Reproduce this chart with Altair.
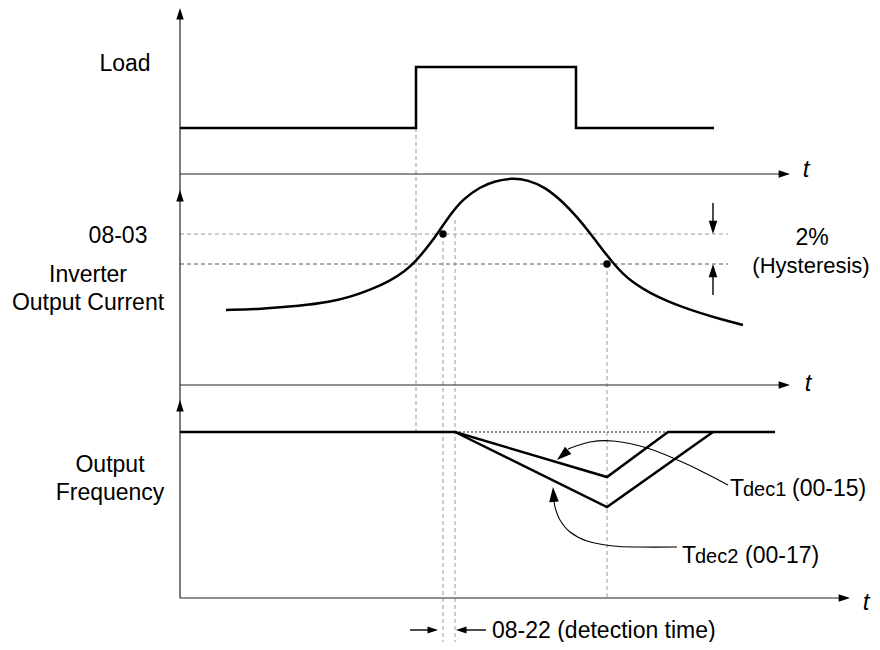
import altair as alt
import pandas as pd

FONT = "Liberation Sans, Arial, Helvetica, sans-serif"

# ---------------- data (diagram coordinates) ----------------
# axes (solid thin lines)
axis_x1 = [180, 180, 180, 180]
axis_y1 = [598, 174, 385, 598]
axis_x2 = [180, 786, 786, 846]
axis_y2 = [12, 174, 385, 598]

# Load signal
load_t = [180, 416, 416, 576, 576, 714]
load_v = [128, 128, 67, 67, 128, 128]

# Inverter output current
cur_t = [226, 260, 300, 330, 350, 370, 390, 405, 415, 426, 438, 450, 463, 480, 495, 512,
         528, 545, 563, 577, 590, 602, 613, 623, 635, 650, 667, 685, 700, 720, 743]
cur_v = [310, 309, 306, 302, 297, 290, 281, 271, 262, 249, 233, 215, 199, 187, 181, 178,
         180, 187, 202, 217, 233, 249, 263, 274, 284, 293, 301, 308, 313, 319, 325]

# Output frequency (Tdec1 and Tdec2 paths)
f_base_t = [180, 455]
f_base_v = [432, 432]
f1_t = [455, 607, 668, 775]
f1_v = [432, 477, 432, 432]
f2_t = [455, 607, 713]
f2_v = [432, 507, 432]

# dashed helper lines (horizontal)
hd_x1 = [180, 180]
hd_x2 = [728, 728]
hd_y = [234, 264]
hd_col = ["#9a9a9a", "#555555"]

# dashed helper lines (vertical)
vd_x = [416, 443, 455, 607]
vd_y1 = [128, 234, 220, 264]
vd_y2 = [432, 648, 648, 598]

# dotted reference at set frequency
dot_x1, dot_x2, dot_y = 455, 668, 432

# detection points
pt_t = [443, 607]
pt_v = [234, 264]

# arrow shafts
sh_x1 = [713, 713, 410, 486]
sh_y1 = [203, 295, 630, 630]
sh_x2 = [713, 713, 428, 466]
sh_y2 = [222, 276, 630, 630]

# arrowheads: tip position, direction (deg clockwise from up), size
ah_x = [180, 180, 180, 790, 790, 850, 713, 713, 438, 456, 557, 553]
ah_y = [8, 190, 400, 174, 385, 598, 234, 264, 630, 630, 460, 487]
ah_ang = [0, 0, 0, 90, 90, 90, 180, 0, 90, 270, 229, 356]
ah_sz = [130, 130, 130, 130, 130, 130, 175, 175, 110, 110, 220, 220]

# leader curves
l1_x = [728, 705, 680, 647, 613, 590, 568]
l1_y = [485, 473, 461, 448, 441, 442, 449]
l2_x = [677, 640, 613, 587, 570, 560, 555, 554]
l2_y = [547, 547, 546, 541, 532, 520, 507, 499]

# texts
lab_text = ["Load", "08-03", "Inverter", "Output Current", "Output", "Frequency", "2%"]
lab_x = [125, 118, 88, 88, 110, 110, 812]
lab_y = [64, 236, 275, 303, 465, 493, 238]

hyst_text = ["(Hysteresis)"]
hyst_x = [811]
hyst_y = [266]

t_x = [806, 808, 866]
t_y = [170, 384, 603]

# ---------------- build ----------------
W, H = 864, 634
xs = alt.Scale(domain=[8, 8 + W], nice=False, zero=False)
ys = alt.Scale(domain=[8, 8 + H], nice=False, zero=False, reverse=True)


def X(f):
    return alt.X(f, type="quantitative", scale=xs, axis=None)


def Y(f):
    return alt.Y(f, type="quantitative", scale=ys, axis=None)


def line(xv, yv, width=2.5, color="black", dash=None, interp="linear"):
    df = pd.DataFrame({"x": xv, "y": yv, "o": list(range(len(xv)))})
    kw = dict(color=color, strokeWidth=width, interpolate=interp)
    if dash:
        kw["strokeDash"] = dash
    return alt.Chart(df).mark_line(**kw).encode(x=X("x"), y=Y("y"), order="o:Q")


layers = []

# dashed helpers
hd = pd.DataFrame({"x1": hd_x1, "x2": hd_x2, "y": hd_y, "c": hd_col})
layers.append(alt.Chart(hd).mark_rule(strokeWidth=1, strokeDash=[4, 3]).encode(
    x=X("x1"), x2="x2", y=Y("y"), color=alt.Color("c:N", scale=None)))
vd = pd.DataFrame({"x": vd_x, "y1": vd_y1, "y2": vd_y2})
layers.append(alt.Chart(vd).mark_rule(strokeWidth=1, strokeDash=[4, 3], color="#999999").encode(
    x=X("x"), y=Y("y1"), y2="y2"))
dd = pd.DataFrame({"x1": [dot_x1], "x2": [dot_x2], "y": [dot_y]})
layers.append(alt.Chart(dd).mark_rule(strokeWidth=1.2, strokeDash=[2, 2], color="#222222").encode(
    x=X("x1"), x2="x2", y=Y("y")))

# axes
ax = pd.DataFrame({"x1": axis_x1, "y1": axis_y1, "x2": axis_x2, "y2": axis_y2})
layers.append(alt.Chart(ax).mark_rule(strokeWidth=1.2, color="#222222").encode(
    x=X("x1"), y=Y("y1"), x2="x2", y2="y2"))

# signals
layers.append(line(load_t, load_v))
layers.append(line(cur_t, cur_v, interp="basis"))
layers.append(line(f_base_t, f_base_v))
layers.append(line(f1_t, f1_v))
layers.append(line(f2_t, f2_v))

# leaders
layers.append(line(l1_x, l1_y, width=1.1, interp="cardinal"))
layers.append(line(l2_x, l2_y, width=1.1, interp="cardinal"))

# shafts
sh = pd.DataFrame({"x1": sh_x1, "y1": sh_y1, "x2": sh_x2, "y2": sh_y2})
layers.append(alt.Chart(sh).mark_rule(strokeWidth=1.4, color="black").encode(
    x=X("x1"), y=Y("y1"), x2="x2", y2="y2"))

# points
pt = pd.DataFrame({"x": pt_t, "y": pt_v})
layers.append(alt.Chart(pt).mark_point(filled=True, shape="circle", size=55, color="black", opacity=1).encode(
    x=X("x"), y=Y("y")))

# arrowheads
ah = pd.DataFrame({"x": ah_x, "y": ah_y, "a": ah_ang, "s": ah_sz})
layers.append(alt.Chart(ah).mark_point(filled=True, shape="M0,0L-0.65,2L0.65,2Z",
                                       color="black", opacity=1, strokeWidth=0).encode(
    x=X("x"), y=Y("y"), angle=alt.Angle("a:Q", scale=None), size=alt.Size("s:Q", scale=None)))

# labels
lb = pd.DataFrame({"x": lab_x, "y": lab_y, "t": lab_text})
layers.append(alt.Chart(lb).mark_text(font=FONT, fontSize=23, align="center", baseline="middle",
                                      color="black").encode(x=X("x"), y=Y("y"), text="t:N"))
hy = pd.DataFrame({"x": hyst_x, "y": hyst_y, "t": hyst_text})
layers.append(alt.Chart(hy).mark_text(font=FONT, fontSize=22, align="center", baseline="middle",
                                      color="black").encode(x=X("x"), y=Y("y"), text="t:N"))

tt = pd.DataFrame({"x": t_x, "y": t_y, "t": ["t", "t", "t"]})
layers.append(alt.Chart(tt).mark_text(font=FONT, fontSize=24, fontStyle="italic", align="center",
                                      baseline="middle", color="black").encode(x=X("x"), y=Y("y"), text="t:N"))

# detection time label
dt = pd.DataFrame({"x": [492], "y": [631], "t": ["08-22 (detection time)"]})
layers.append(alt.Chart(dt).mark_text(font=FONT, fontSize=23, align="left", baseline="middle",
                                      color="black").encode(x=X("x"), y=Y("y"), text="t:N"))

# Tdec labels
big = pd.DataFrame({"x": [730, 682, 792, 745], "y": [496, 563, 496, 563],
                    "t": ["T", "T", "(00-15)", "(00-17)"]})
layers.append(alt.Chart(big).mark_text(font=FONT, fontSize=23, align="left", baseline="alphabetic",
                                       color="black").encode(x=X("x"), y=Y("y"), text="t:N"))
small = pd.DataFrame({"x": [743, 695], "y": [496, 563], "t": ["dec1", "dec2"]})
layers.append(alt.Chart(small).mark_text(font=FONT, fontSize=20, align="left", baseline="alphabetic",
                                         color="black").encode(x=X("x"), y=Y("y"), text="t:N"))

chart = alt.layer(*layers).properties(
    width=W, height=H, padding=0, autosize=alt.AutoSizeParams(type="none"),
    background="white"
).configure_view(stroke=None)

chart.save("out.html", embed_options={"renderer": "svg", "actions": False})
